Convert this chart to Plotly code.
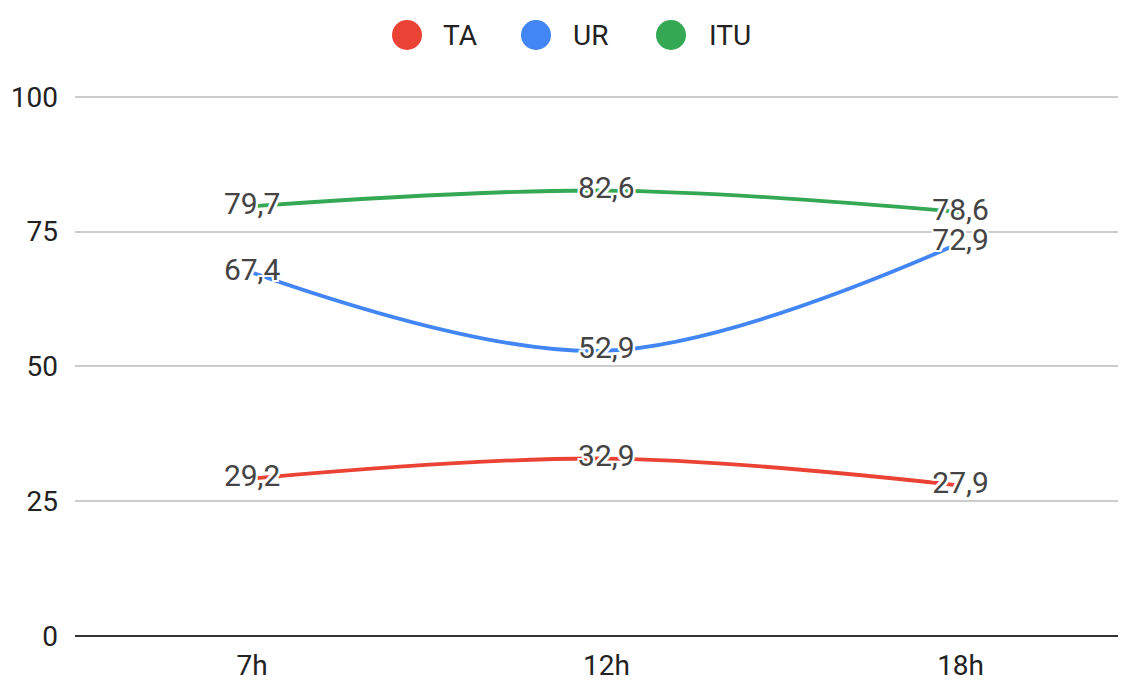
import plotly.graph_objects as go

categories = ["7h", "12h", "18h"]
ta = [29.2, 32.9, 27.9]
ur = [67.4, 52.9, 72.9]
itu = [79.7, 82.6, 78.6]
series_names = ["TA", "UR", "ITU"]
colors = ["#ea4335", "#4285f4", "#34a853"]
y_ticks = [0, 25, 50, 75, 100]

FONT = "Roboto, Arial, sans-serif"
halo = ("white 2px 0px 0px, white -2px 0px 0px, white 0px 2px 0px, white 0px -2px 0px, "
        "white 2px 2px 0px, white -2px -2px 0px, white 2px -2px 0px, white -2px 2px 0px")

fig = go.Figure()
for name, vals, col in zip(series_names, [ta, ur, itu], colors):
    fig.add_trace(go.Scatter(
        x=categories, y=vals, name=name, mode="lines+text",
        line=dict(color=col, width=3.8, shape="spline", smoothing=1),
        text=[f"{v:.1f}".replace(".", ",") for v in vals],
        textposition="middle center",
        textfont=dict(family=FONT, size=30, color="#444444", shadow=halo),
        showlegend=False, cliponaxis=False,
    ))

# page has an 8px body margin; figure sized to fit inside the window
W, H = 1118, 674
ml, mr = 67, 6
mt, mb = 86, 46
pw = W - ml - mr
legend_circles = [407, 536, 671]   # page x
legend_texts = [441, 571, 707]
shapes = []
annotations = []
for name, col, cx, tx in zip(series_names, colors, legend_circles, legend_texts):
    shapes.append(dict(type="circle", xref="paper", yref="paper",
                       xsizemode="pixel", ysizemode="pixel",
                       xanchor=(cx - 8 - ml) / pw, yanchor=1.0,
                       x0=-15, x1=15, y0=44, y1=74,
                       fillcolor=col, line=dict(width=0)))
    annotations.append(dict(text=name, xref="paper", yref="paper",
                            x=(tx - 8 - ml) / pw, y=1.0, yshift=59,
                            xanchor="left", yanchor="middle", showarrow=False,
                            font=dict(family=FONT, size=28, color="#222222")))

fig.update_layout(
    width=W, height=H,
    margin=dict(l=ml, r=mr, t=mt, b=mb),
    paper_bgcolor="white", plot_bgcolor="white",
    shapes=shapes, annotations=annotations,
    xaxis=dict(range=[-0.5, 2.45], showgrid=False, zeroline=False, showline=False,
               ticks="", automargin=False, ticklabelstandoff=10,
               tickfont=dict(family=FONT, size=28, color="#222222")),
    yaxis=dict(range=[0, 100.5], tickvals=y_ticks, showgrid=True, gridcolor="#cccccc",
               gridwidth=1.5, zeroline=True, zerolinecolor="#333333", zerolinewidth=2,
               ticks="", ticklabelstandoff=16, automargin=False,
               tickfont=dict(family=FONT, size=28, color="#222222")),
)

fig.write_html("out.html")
